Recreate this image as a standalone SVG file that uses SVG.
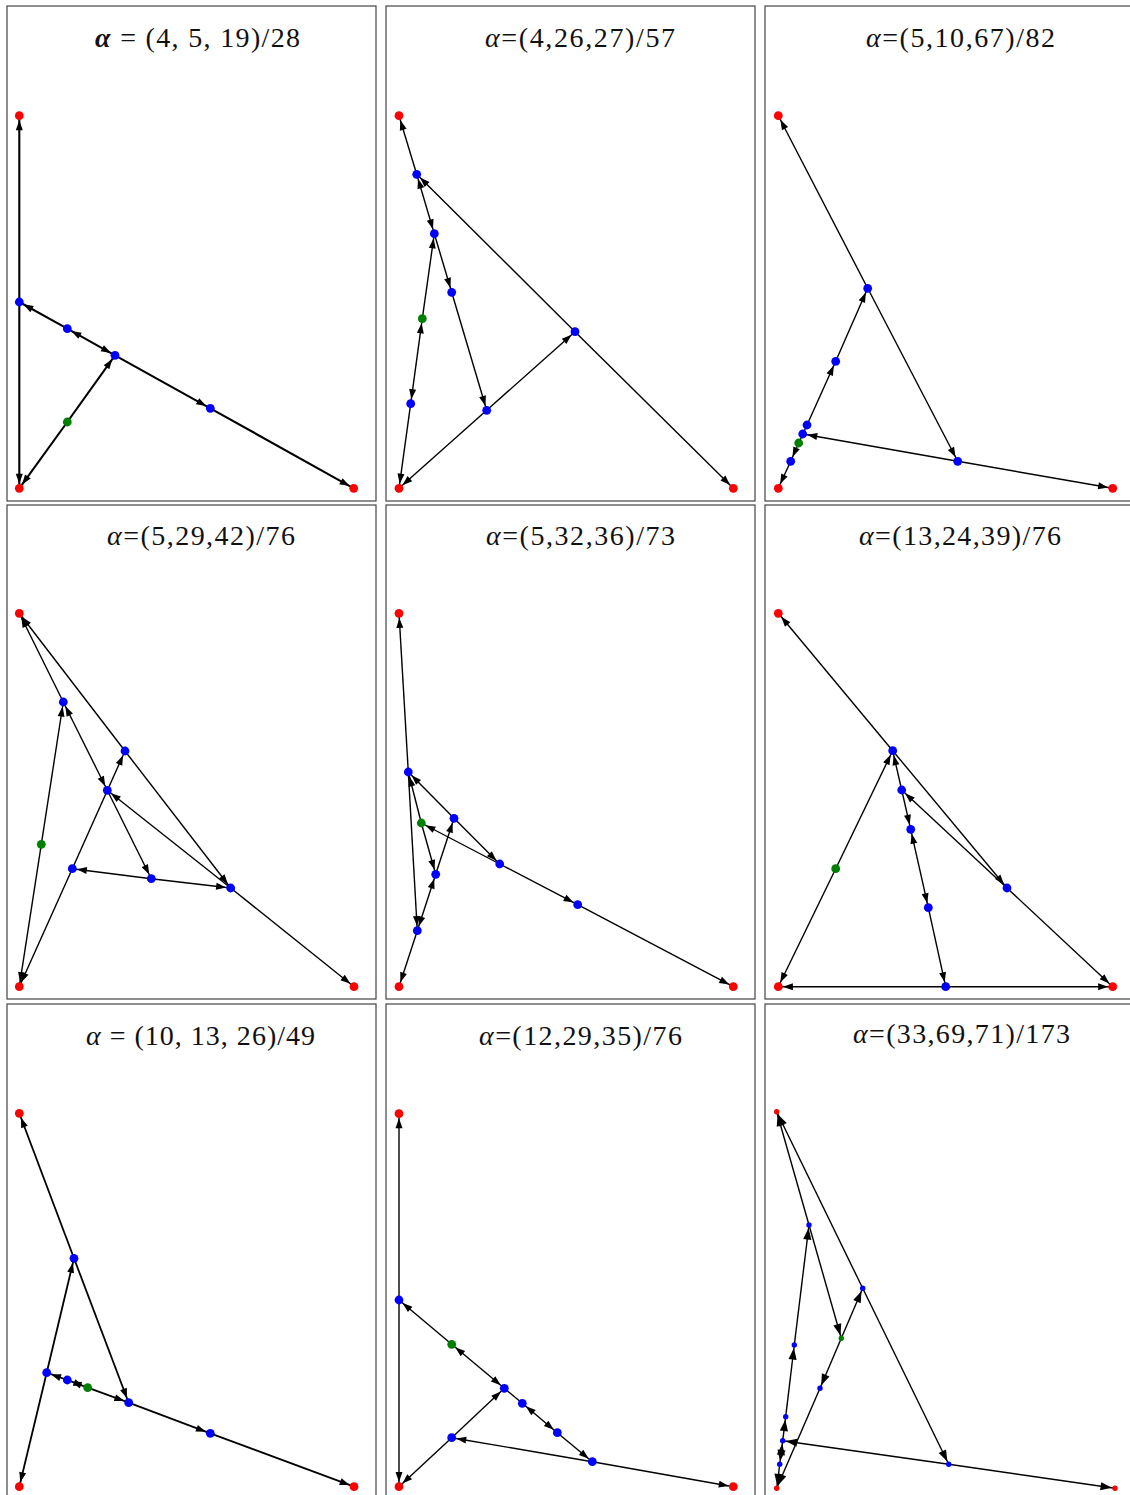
<svg xmlns="http://www.w3.org/2000/svg" width="1130" height="1495" viewBox="0 0 1130 1495">
<style>
.bg{fill:#fff}
.frame{fill:none;stroke:#444;stroke-width:1.2}
.t{font-family:"Liberation Serif",serif;font-size:28px;fill:#111}
.e line{stroke:#000;stroke-width:1.4;marker-end:url(#ah)}
.e line.bi{marker-start:url(#ah)}
.e line.pl{marker-end:none}
.e.thick line{stroke-width:2.1}
.e.mid line{stroke-width:1.8}
.e.big line{marker-end:url(#ah9)}
.e.big line.bi{marker-start:url(#ah9)}
.r{fill:#f00}.b{fill:#00f}.g{fill:#008000}
circle{r:4.4px}
#panel9 circle{r:2.7px}
</style>
<defs>
<marker id="ah" markerUnits="userSpaceOnUse" markerWidth="20" markerHeight="10" refX="14.6" refY="4" orient="auto-start-reverse" overflow="visible"><path d="M0,0.5 L10,4 L0,7.5 Z" fill="#000"/></marker>
<marker id="ah9" markerUnits="userSpaceOnUse" markerWidth="20" markerHeight="10" refX="14.5" refY="4.5" orient="auto-start-reverse" overflow="visible"><path d="M0,0.4 L11.5,4.5 L0,8.6 Z" fill="#000"/></marker>
</defs>
<rect class="bg" x="0" y="0" width="1130" height="1495"/>

<!-- Panel 1 -->
<g id="panel1">
<rect class="frame" x="7" y="6" width="369" height="495"/>
<text class="t" x="95" y="47" textLength="205" lengthAdjust="spacing"><tspan font-style="italic" font-weight="bold">α</tspan> = (4, 5, 19)/28</text>
<g id="p1-connectors" class="e thick">
<line x1="19.3" y1="302" x2="19.3" y2="115.7"/>
<line x1="19.3" y1="302" x2="19.3" y2="488.3"/>
<line x1="67.3" y1="328.7" x2="19.3" y2="302"/>
<line class="bi" x1="67.3" y1="328.7" x2="115" y2="355.3"/>
<line x1="115" y1="355.3" x2="210.3" y2="408.3"/>
<line x1="210.3" y1="408.3" x2="353.7" y2="488.3"/>
<line x1="67.3" y1="422" x2="115" y2="355.3"/>
<line x1="67.3" y1="422" x2="19.3" y2="488.3"/>
</g>
<g id="p1-rt" class="r"><circle cx="19.3" cy="115.7" r="4.4"/></g>
<g id="p1-b1" class="b"><circle cx="19.3" cy="302" r="4.4"/></g>
<g id="p1-b2" class="b"><circle cx="67.3" cy="328.7" r="4.4"/></g>
<g id="p1-b3" class="b"><circle cx="115" cy="355.3" r="4.4"/></g>
<g id="p1-b4" class="b"><circle cx="210.3" cy="408.3" r="4.4"/></g>
<g id="p1-g" class="g"><circle cx="67.3" cy="422" r="4.4"/></g>
<g id="p1-rbl" class="r"><circle cx="19.3" cy="488.3" r="4.4"/></g>
<g id="p1-rbr" class="r"><circle cx="353.7" cy="488.3" r="4.4"/></g>
</g>

<!-- Panel 2 -->
<g id="panel2">
<rect class="frame" x="386" y="6" width="369" height="495"/>
<text class="t" x="485" y="47" textLength="190" lengthAdjust="spacing"><tspan font-style="italic">α</tspan>=(4,26,27)/57</text>
<g id="p2-connectors" class="e">
<line x1="416.7" y1="174.3" x2="399" y2="115.7"/>
<line class="bi" x1="416.7" y1="174.3" x2="434.3" y2="233.7"/>
<line x1="434.3" y1="233.7" x2="451.7" y2="292.3"/>
<line x1="575" y1="331.7" x2="416.7" y2="174.3"/>
<line x1="575" y1="331.7" x2="733.3" y2="488.3"/>
<line x1="451.7" y1="292.3" x2="486.7" y2="410.3"/>
<line x1="486.7" y1="410.3" x2="575" y2="331.7"/>
<line x1="486.7" y1="410.3" x2="399" y2="488.3"/>
<line x1="422.3" y1="318.7" x2="434.3" y2="233.7"/>
<line class="bi" x1="422.3" y1="318.7" x2="410.7" y2="403.7"/>
<line x1="410.7" y1="403.7" x2="399" y2="488.3"/>
</g>
<g id="p2-rt" class="r"><circle cx="399" cy="115.7" r="4.4"/></g>
<g id="p2-a" class="b"><circle cx="416.7" cy="174.3" r="4.4"/></g>
<g id="p2-b" class="b"><circle cx="434.3" cy="233.7" r="4.4"/></g>
<g id="p2-c" class="b"><circle cx="451.7" cy="292.3" r="4.4"/></g>
<g id="p2-g" class="g"><circle cx="422.3" cy="318.7" r="4.4"/></g>
<g id="p2-d" class="b"><circle cx="575" cy="331.7" r="4.4"/></g>
<g id="p2-e" class="b"><circle cx="410.7" cy="403.7" r="4.4"/></g>
<g id="p2-f" class="b"><circle cx="486.7" cy="410.3" r="4.4"/></g>
<g id="p2-rbl" class="r"><circle cx="399" cy="488.3" r="4.4"/></g>
<g id="p2-rbr" class="r"><circle cx="733.3" cy="488.3" r="4.4"/></g>
</g>

<!-- Panel 3 -->
<g id="panel3">
<rect class="frame" x="765" y="6" width="369" height="495"/>
<text class="t" x="866" y="47" textLength="189" lengthAdjust="spacing"><tspan font-style="italic">α</tspan>=(5,10,67)/82</text>
<g id="p3-connectors" class="e">
<line x1="867.7" y1="288.3" x2="778.3" y2="115.7"/>
<line x1="867.7" y1="288.3" x2="957.7" y2="461.3"/>
<line x1="835.7" y1="361.3" x2="867.7" y2="288.3"/>
<line x1="807" y1="425" x2="835.7" y2="361.3"/>
<line x1="957.7" y1="461.3" x2="802.7" y2="434"/>
<line x1="957.7" y1="461.3" x2="1112.7" y2="488.3"/>
<line class="pl" x1="807" y1="425" x2="798.7" y2="443"/>
<line x1="798.7" y1="443" x2="790.7" y2="461.3"/>
<line x1="790.7" y1="461.3" x2="778.3" y2="488.3"/>
</g>
<g id="p3-rt" class="r"><circle cx="778.3" cy="115.7" r="4.4"/></g>
<g id="p3-a" class="b"><circle cx="867.7" cy="288.3" r="4.4"/></g>
<g id="p3-b" class="b"><circle cx="835.7" cy="361.3" r="4.4"/></g>
<g id="p3-c" class="b"><circle cx="807" cy="425" r="4.4"/></g>
<g id="p3-d" class="b"><circle cx="802.7" cy="434" r="4.4"/></g>
<g id="p3-g" class="g"><circle cx="798.7" cy="443" r="4.4"/></g>
<g id="p3-e" class="b"><circle cx="790.7" cy="461.3" r="4.4"/></g>
<g id="p3-f" class="b"><circle cx="957.7" cy="461.3" r="4.4"/></g>
<g id="p3-rbl" class="r"><circle cx="778.3" cy="488.3" r="4.4"/></g>
<g id="p3-rbr" class="r"><circle cx="1112.7" cy="488.3" r="4.4"/></g>
</g>

<!-- Panel 4 -->
<g id="panel4">
<rect class="frame" x="7" y="505" width="369" height="494"/>
<text class="t" x="107" y="545" textLength="188" lengthAdjust="spacing"><tspan font-style="italic">α</tspan>=(5,29,42)/76</text>
<g id="p4-connectors" class="e">
<line x1="63.3" y1="702" x2="19.3" y2="613.3"/>
<line x1="125" y1="751" x2="19.3" y2="613.3"/>
<line class="bi" x1="63.3" y1="702" x2="107.3" y2="790.3"/>
<line x1="107.3" y1="790.3" x2="151.3" y2="878.7"/>
<line x1="230.7" y1="888" x2="107.3" y2="790.3"/>
<line x1="125" y1="751" x2="230.7" y2="888"/>
<line x1="151.3" y1="878.7" x2="72.3" y2="868.7"/>
<line x1="151.3" y1="878.7" x2="230.7" y2="888"/>
<line x1="72.3" y1="868.7" x2="125" y2="751"/>
<line x1="72.3" y1="868.7" x2="19.3" y2="986.7"/>
<line x1="41.3" y1="844.3" x2="63.3" y2="702"/>
<line x1="41.3" y1="844.3" x2="19.3" y2="986.7"/>
<line x1="230.7" y1="888" x2="354" y2="986.7"/>
</g>
<g id="p4-rt" class="r"><circle cx="19.3" cy="613.3" r="4.4"/></g>
<g id="p4-a" class="b"><circle cx="63.3" cy="702" r="4.4"/></g>
<g id="p4-b" class="b"><circle cx="125" cy="751" r="4.4"/></g>
<g id="p4-c" class="b"><circle cx="107.3" cy="790.3" r="4.4"/></g>
<g id="p4-g" class="g"><circle cx="41.3" cy="844.3" r="4.4"/></g>
<g id="p4-d" class="b"><circle cx="72.3" cy="868.7" r="4.4"/></g>
<g id="p4-e" class="b"><circle cx="151.3" cy="878.7" r="4.4"/></g>
<g id="p4-f" class="b"><circle cx="230.7" cy="888" r="4.4"/></g>
<g id="p4-rbl" class="r"><circle cx="19.3" cy="986.7" r="4.4"/></g>
<g id="p4-rbr" class="r"><circle cx="354" cy="986.7" r="4.4"/></g>
</g>

<!-- Panel 5 -->
<g id="panel5">
<rect class="frame" x="386" y="505" width="369" height="494"/>
<text class="t" x="486" y="545" textLength="189" lengthAdjust="spacing"><tspan font-style="italic">α</tspan>=(5,32,36)/73</text>
<g id="p5-connectors" class="e">
<line x1="408.3" y1="772" x2="399" y2="613.3"/>
<line x1="454" y1="818.3" x2="408.3" y2="772"/>
<line x1="454" y1="818.3" x2="499.7" y2="864"/>
<line x1="499.7" y1="864" x2="421.3" y2="823"/>
<line x1="499.7" y1="864" x2="577.7" y2="904.7"/>
<line x1="577.7" y1="904.7" x2="733.3" y2="986.7"/>
<line x1="421.3" y1="823" x2="408.3" y2="772"/>
<line x1="421.3" y1="823" x2="435.7" y2="874.3"/>
<line x1="435.7" y1="874.3" x2="454" y2="818.3"/>
<line class="bi" x1="435.7" y1="874.3" x2="417.3" y2="930.7"/>
<line x1="408.3" y1="772" x2="417.3" y2="930.7"/>
<line x1="417.3" y1="930.7" x2="399" y2="986.7"/>
</g>
<g id="p5-rt" class="r"><circle cx="399" cy="613.3" r="4.4"/></g>
<g id="p5-a" class="b"><circle cx="408.3" cy="772" r="4.4"/></g>
<g id="p5-b" class="b"><circle cx="454" cy="818.3" r="4.4"/></g>
<g id="p5-g" class="g"><circle cx="421.3" cy="823" r="4.4"/></g>
<g id="p5-c" class="b"><circle cx="499.7" cy="864" r="4.4"/></g>
<g id="p5-d" class="b"><circle cx="435.7" cy="874.3" r="4.4"/></g>
<g id="p5-e" class="b"><circle cx="577.7" cy="904.7" r="4.4"/></g>
<g id="p5-f" class="b"><circle cx="417.3" cy="930.7" r="4.4"/></g>
<g id="p5-rbl" class="r"><circle cx="399" cy="986.7" r="4.4"/></g>
<g id="p5-rbr" class="r"><circle cx="733.3" cy="986.7" r="4.4"/></g>
</g>

<!-- Panel 6 -->
<g id="panel6">
<rect class="frame" x="765" y="505" width="369" height="494"/>
<text class="t" x="859" y="545" textLength="202" lengthAdjust="spacing"><tspan font-style="italic">α</tspan>=(13,24,39)/76</text>
<g id="p6-connectors" class="e">
<line x1="892.7" y1="750.7" x2="778.3" y2="613.3"/>
<line x1="892.7" y1="750.7" x2="1007" y2="888"/>
<line x1="901.7" y1="790" x2="892.7" y2="750.7"/>
<line x1="835.7" y1="868.7" x2="892.7" y2="750.7"/>
<line x1="901.7" y1="790" x2="910.7" y2="829.3"/>
<line class="bi" x1="910.7" y1="829.3" x2="928.3" y2="907.7"/>
<line x1="928.3" y1="907.7" x2="945.7" y2="986.7"/>
<line x1="945.7" y1="986.7" x2="778.3" y2="986.7"/>
<line x1="945.7" y1="986.7" x2="1112.7" y2="986.7"/>
<line x1="1007" y1="888" x2="901.7" y2="790"/>
<line x1="1007" y1="888" x2="1112.7" y2="986.7"/>
<line x1="835.7" y1="868.7" x2="778.3" y2="986.7"/>
</g>
<g id="p6-rt" class="r"><circle cx="778.3" cy="613.3" r="4.4"/></g>
<g id="p6-a" class="b"><circle cx="892.7" cy="750.7" r="4.4"/></g>
<g id="p6-b" class="b"><circle cx="901.7" cy="790" r="4.4"/></g>
<g id="p6-c" class="b"><circle cx="910.7" cy="829.3" r="4.4"/></g>
<g id="p6-g" class="g"><circle cx="835.7" cy="868.7" r="4.4"/></g>
<g id="p6-d" class="b"><circle cx="1007" cy="888" r="4.4"/></g>
<g id="p6-e" class="b"><circle cx="928.3" cy="907.7" r="4.4"/></g>
<g id="p6-f" class="b"><circle cx="945.7" cy="986.7" r="4.4"/></g>
<g id="p6-rbl" class="r"><circle cx="778.3" cy="986.7" r="4.4"/></g>
<g id="p6-rbr" class="r"><circle cx="1112.7" cy="986.7" r="4.4"/></g>
</g>

<!-- Panel 7 -->
<g id="panel7">
<rect class="frame" x="7" y="1004" width="369" height="495"/>
<text class="t" x="86" y="1045" textLength="229" lengthAdjust="spacing"><tspan font-style="italic">α</tspan> = (10, 13, 26)/49</text>
<g id="p7-connectors" class="e mid">
<line x1="74" y1="1258.3" x2="19.3" y2="1113.3"/>
<line x1="74" y1="1258.3" x2="128.7" y2="1402.7"/>
<line x1="46.7" y1="1372.7" x2="74" y2="1258.3"/>
<line x1="46.7" y1="1372.7" x2="19.3" y2="1486.7"/>
<line x1="67.3" y1="1380" x2="46.7" y2="1372.7"/>
<line class="bi" x1="67.3" y1="1380" x2="87.7" y2="1387.7"/>
<line x1="87.7" y1="1387.7" x2="128.7" y2="1402.7"/>
<line x1="128.7" y1="1402.7" x2="210.3" y2="1433.3"/>
<line x1="210.3" y1="1433.3" x2="354" y2="1486.7"/>
</g>
<g id="p7-rt" class="r"><circle cx="19.3" cy="1113.3" r="4.4"/></g>
<g id="p7-a" class="b"><circle cx="74" cy="1258.3" r="4.4"/></g>
<g id="p7-b" class="b"><circle cx="46.7" cy="1372.7" r="4.4"/></g>
<g id="p7-c" class="b"><circle cx="67.3" cy="1380" r="4.4"/></g>
<g id="p7-g" class="g"><circle cx="87.7" cy="1387.7" r="4.4"/></g>
<g id="p7-d" class="b"><circle cx="128.7" cy="1402.7" r="4.4"/></g>
<g id="p7-e" class="b"><circle cx="210.3" cy="1433.3" r="4.4"/></g>
<g id="p7-rbl" class="r"><circle cx="19.3" cy="1486.7" r="4.4"/></g>
<g id="p7-rbr" class="r"><circle cx="354" cy="1486.7" r="4.4"/></g>
</g>

<!-- Panel 8 -->
<g id="panel8">
<rect class="frame" x="386" y="1004" width="369" height="495"/>
<text class="t" x="479" y="1045" textLength="203" lengthAdjust="spacing"><tspan font-style="italic">α</tspan>=(12,29,35)/76</text>
<g id="p8-connectors" class="e">
<line x1="399" y1="1300" x2="399" y2="1113.7"/>
<line x1="399" y1="1300" x2="399" y2="1486.7"/>
<line x1="451.7" y1="1344.3" x2="399" y2="1300"/>
<line class="bi" x1="451.7" y1="1344.3" x2="504.3" y2="1388.3"/>
<line class="pl" x1="504.3" y1="1388.3" x2="522.3" y2="1403.3"/>
<line class="bi" x1="522.3" y1="1403.3" x2="557.3" y2="1432.7"/>
<line x1="557.3" y1="1432.7" x2="592.3" y2="1461.7"/>
<line x1="451.7" y1="1437.7" x2="504.3" y2="1388.3"/>
<line x1="451.7" y1="1437.7" x2="399" y2="1486.7"/>
<line x1="592.3" y1="1461.7" x2="451.7" y2="1437.7"/>
<line x1="592.3" y1="1461.7" x2="733.3" y2="1486.7"/>
</g>
<g id="p8-rt" class="r"><circle cx="399" cy="1113.7" r="4.4"/></g>
<g id="p8-a" class="b"><circle cx="399" cy="1300" r="4.4"/></g>
<g id="p8-g" class="g"><circle cx="451.7" cy="1344.3" r="4.4"/></g>
<g id="p8-b" class="b"><circle cx="504.3" cy="1388.3" r="4.4"/></g>
<g id="p8-c" class="b"><circle cx="522.3" cy="1403.3" r="4.4"/></g>
<g id="p8-d" class="b"><circle cx="557.3" cy="1432.7" r="4.4"/></g>
<g id="p8-e" class="b"><circle cx="451.7" cy="1437.7" r="4.4"/></g>
<g id="p8-f" class="b"><circle cx="592.3" cy="1461.7" r="4.4"/></g>
<g id="p8-rbl" class="r"><circle cx="399" cy="1486.7" r="4.4"/></g>
<g id="p8-rbr" class="r"><circle cx="733.3" cy="1486.7" r="4.4"/></g>
</g>

<!-- Panel 9 -->
<g id="panel9">
<rect class="frame" x="765" y="1004" width="369" height="495"/>
<text class="t" x="853" y="1043" textLength="217" lengthAdjust="spacing"><tspan font-style="italic">α</tspan>=(33,69,71)/173</text>
<g id="p9-connectors" class="e big">
<line x1="809" y1="1225" x2="776.7" y2="1111.7"/>
<line x1="862.7" y1="1288.3" x2="776.7" y2="1111.7"/>
<line x1="809" y1="1225" x2="841.3" y2="1338.3"/>
<line x1="794.3" y1="1345" x2="809" y2="1225"/>
<line x1="841.3" y1="1338.3" x2="862.7" y2="1288.3"/>
<line x1="841.3" y1="1338.3" x2="820" y2="1388.3"/>
<line x1="862.7" y1="1288.3" x2="948.7" y2="1464.3"/>
<line x1="948.7" y1="1464.3" x2="782.7" y2="1440.7"/>
<line x1="948.7" y1="1464.3" x2="1115" y2="1488.3"/>
<line x1="785.7" y1="1416.7" x2="794.3" y2="1345"/>
<line x1="782.7" y1="1440.7" x2="785.7" y2="1416.7"/>
<line class="bi" x1="782.7" y1="1440.7" x2="779.7" y2="1464.3"/>
<line x1="820" y1="1388.3" x2="776.7" y2="1488.3"/>
<line x1="779.7" y1="1464.3" x2="776.7" y2="1488.3"/>
</g>
<g id="p9-rt" class="r"><circle cx="776.7" cy="1111.7" r="2.7"/></g>
<g id="p9-a" class="b"><circle cx="809" cy="1225" r="2.7"/></g>
<g id="p9-b" class="b"><circle cx="862.7" cy="1288.3" r="2.7"/></g>
<g id="p9-g" class="g"><circle cx="841.3" cy="1338.3" r="2.7"/></g>
<g id="p9-c" class="b"><circle cx="794.3" cy="1345" r="2.7"/></g>
<g id="p9-d" class="b"><circle cx="820" cy="1388.3" r="2.7"/></g>
<g id="p9-e" class="b"><circle cx="785.7" cy="1416.7" r="2.7"/></g>
<g id="p9-f" class="b"><circle cx="782.7" cy="1440.7" r="2.7"/></g>
<g id="p9-h2" class="b"><circle cx="779.7" cy="1464.3" r="2.7"/></g>
<g id="p9-h" class="b"><circle cx="948.7" cy="1464.3" r="2.7"/></g>
<g id="p9-rbl" class="r"><circle cx="776.7" cy="1488.3" r="2.7"/></g>
<g id="p9-rbr" class="r"><circle cx="1115" cy="1488.3" r="2.7"/></g>
</g>
</svg>
